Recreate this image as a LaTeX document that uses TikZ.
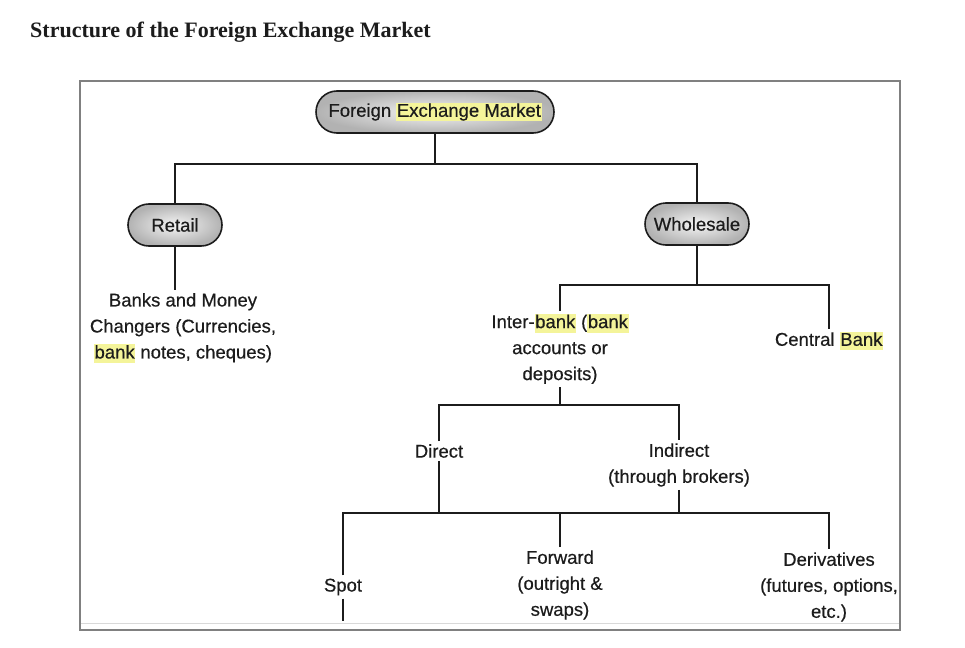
\documentclass[tikz,border=0pt]{standalone}
\usepackage{fontspec}
\setmainfont{Liberation Sans}[FakeBold=0.5]
\newfontfamily\titlefont{Liberation Serif}
\usetikzlibrary{shapes.misc}

\definecolor{hly}{HTML}{F4F49A}
\definecolor{framegray}{HTML}{808080}
\definecolor{ink}{HTML}{1C1C1C}
\newcommand\hlword[1]{{\setlength{\fboxsep}{0.6pt}\colorbox{hly}{\vphantom{Ag}#1}}}

\begin{document}
\begin{tikzpicture}[
  x=1pt, y=-1pt,
  every node/.style={inner sep=1pt, text=ink},
  pill/.style={rounded rectangle, draw=ink, line width=1.6pt, inner color=gray!8,
    outer color=gray!60, minimum height=42pt, font=\fontsize{18.5}{21}\selectfont},
  lbl/.style={align=center, inner sep=3pt, font=\fontsize{18.5}{26}\selectfont},
  edge/.style={draw=ink, line width=1.2pt}]

  \useasboundingbox (0,0) rectangle (965,647);

  % ---- title and frame ----------------------------------------------------
  \node[anchor=west, font=\titlefont\bfseries\fontsize{22}{26}\selectfont]
    (title) at (29,32) {Structure of the Foreign Exchange Market};
  \draw[framegray, line width=2pt] (80,81) rectangle (900,630);
  \draw[gray!30, line width=1pt] (81,623) -- (899,623);

  % ---- objects ------------------------------------------------------------
  \node[pill, minimum width=240pt] (fem)   at (435,112) {Foreign \hlword{Exchange Market}};
  \node[pill, minimum width=96pt]  (retail) at (175,225) {Retail};
  \node[pill, minimum width=106pt] (whole)  at (697,224) {Wholesale};

  \node[lbl] (banks)    at (183,328) {Banks and Money\\Changers (Currencies,\\\hlword{bank} notes, cheques)};
  \node[lbl] (inter)    at (560,349) {Inter-\hlword{bank} (\hlword{bank}\\accounts or\\deposits)};
  \node[lbl] (central)  at (829,341) {Central \hlword{Bank}};
  \node[lbl] (direct)   at (439,451) {Direct};
  \node[lbl] (indirect) at (679,465) {Indirect\\(through brokers)};
  \node[lbl] (spot)     at (343,587) {Spot};
  \node[lbl] (forward)  at (560,585) {Forward\\(outright \&\\swaps)};
  \node[lbl] (deriv)    at (829,587) {Derivatives\\(futures, options,\\etc.)};

  % ---- junctions ----------------------------------------------------------
  \coordinate (j1) at (435,164);
  \coordinate (j2) at (697,285);
  \coordinate (j3) at (560,405);
  \coordinate (j4) at (560,513);
  \coordinate (spotend) at (343,621);

  % ---- connectors ---------------------------------------------------------
  \draw[edge] (fem) -- (j1);
  \draw[edge] (retail) |- (j1) -| (whole);
  \draw[edge] (retail.south) -- (retail.south |- banks.north);
  \draw[edge] (whole) -- (j2);
  \draw[edge] (inter) |- (j2) -| (central);
  \draw[edge] (inter) -- (j3);
  \draw[edge] (direct) |- (j3) -| (indirect);
  \draw[edge] (direct.south) -- (direct.south |- j4);
  \draw[edge] (indirect.south) -- (indirect.south |- j4);
  \draw[edge] (spot) |- (j4) -| (deriv);
  \draw[edge] (forward) -- (j4);
  \draw[edge] (spot) -- (spotend);
\end{tikzpicture}
\end{document}
